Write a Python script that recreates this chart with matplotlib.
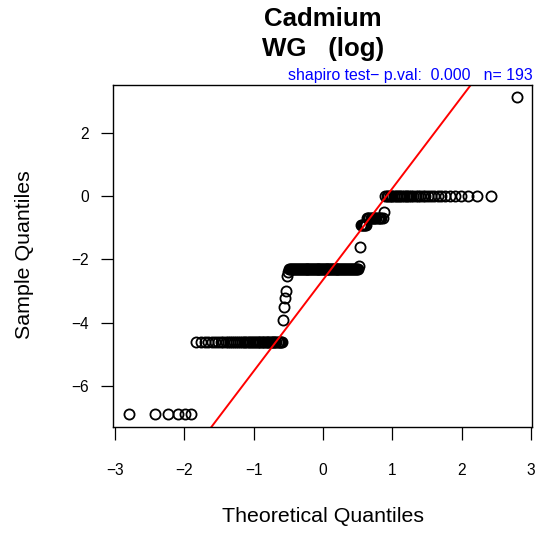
import numpy as np
import matplotlib.pyplot as plt
from statistics import NormalDist

plt.rcParams['font.family'] = ['Liberation Sans', 'DejaVu Sans']

# niveis (log do cadmio) e quantas amostras caem em cada um
niveis = [-6.908, -4.605, -3.912, -3.507, -3.219, -2.996, -2.526, -2.408,
          -2.303, -2.207, -1.609, -0.916, -0.693, -0.511, 0.0, 3.135]
contagens = [6, 48, 1, 1, 1, 1, 1, 1, 74, 1, 1, 6, 14, 1, 35, 1]

titulo = 'Cadmium\nWG   (log)'
texto_shapiro = 'shapiro test\u2212 p.val:  0.000   n= 193'
xticks = [-3, -2, -1, 0, 1, 2, 3]
yticks = [-6, -4, -2, 0, 2]

amostra = np.sort(np.repeat(niveis, contagens))
n = len(amostra)
nd = NormalDist()
probs = (np.arange(1, n + 1) - 0.5) / n   # ppoints
teoricos = np.array([nd.inv_cdf(v) for v in probs])

# qqline: reta pelos quartis
q_am = np.quantile(amostra, [0.25, 0.75])
q_te = np.array([nd.inv_cdf(0.25), nd.inv_cdf(0.75)])
incl = (q_am[1] - q_am[0]) / (q_te[1] - q_te[0])
inter = q_am[0] - incl * q_te[0]

fig = plt.figure(figsize=(5.4, 5.33), dpi=100)
ax = fig.add_axes([0.210, 0.199, 0.776, 0.6415])

ax.plot(teoricos, amostra, 'o', mfc='none', mec='black', ms=7.3, mew=1.3)
xs = np.array([-4, 4])
ax.plot(xs, inter + incl * xs, color='red', lw=1.4)

ax.set_xlim(-3.02, 3.02)
ax.set_ylim(-7.31, 3.53)
ax.set_xticks(xticks)
ax.set_yticks(yticks)
ax.tick_params(direction='out', length=9, width=0.9, labelsize=11.2)
ax.tick_params(axis='x', pad=17)
ax.tick_params(axis='y', pad=8.5)
for s in ax.spines.values():
    s.set_linewidth(1.0)

fig.text(323 / 540, 1 - 517 / 533, 'Theoretical Quantiles', fontsize=15.4,
         ha='center', va='center')
fig.text(25 / 540, 1 - 255 / 533, 'Sample Quantiles', fontsize=15.4,
         ha='center', va='center', rotation=90)
ax.set_title(titulo, fontsize=18.6, fontweight='bold', pad=21, linespacing=1.3)
ax.text(1.0, 1 + 5 / 342, texto_shapiro, transform=ax.transAxes,
        ha='right', va='baseline', color='blue', fontsize=11.4)

fig.savefig('out.png', dpi=100)
